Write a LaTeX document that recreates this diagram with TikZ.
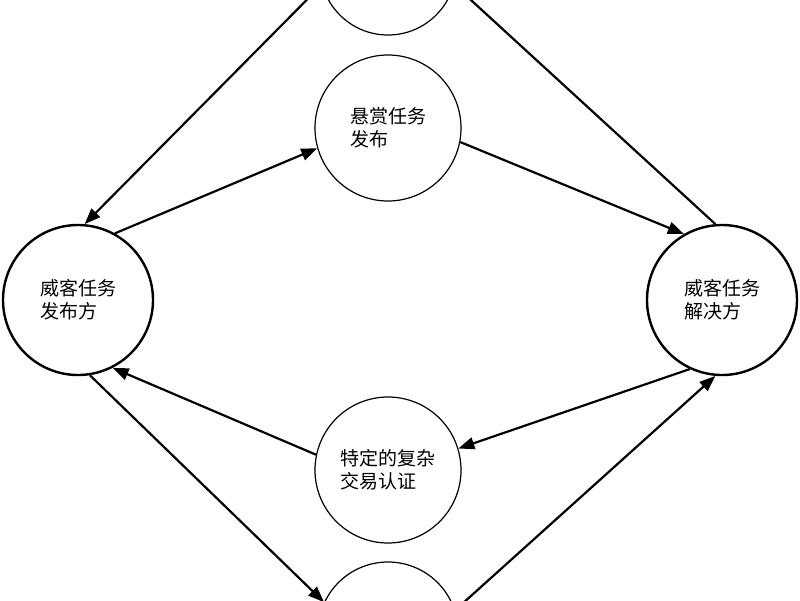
\documentclass[tikz,border=0pt]{standalone}
\usepackage{fontspec}
\newfontfamily\cjk{Noto Sans CJK SC}
\usetikzlibrary{arrows.meta}
\begin{document}
\begin{tikzpicture}[x=1pt,y=-1pt,
  role/.style = {circle, draw, line width=2.4pt, minimum size=150pt,
                 align=left, font=\cjk\fontsize{19}{23}\selectfont},
  stage/.style = {circle, draw, line width=1.2pt, minimum size=146pt,
                 align=left, font=\cjk\fontsize{19}{23}\selectfont},
  flow/.style = {line width=2.2pt, -{Triangle[length=16pt,width=12pt]}}]
		\useasboundingbox (0,0) rectangle (800,600);
		\node[stage, minimum size=136pt] (top) at (388,-33) {};
		\node[stage] (task) at (388,128) {悬赏任务\\发布};
		\node[role] (pub) at (78,300) {威客任务\\发布方};
		\node[role] (sol) at (722,300) {威客任务\\解决方};
		\node[stage] (auth) at (388,470) {特定的复杂\\交易认证};
		\node[stage, minimum size=140pt] (bot) at (388,632) {};
		% upper half
		\draw[flow] (top.195) -- (pub.85);
		\draw[flow] (sol.95) -- (top.345);
		\draw[flow] (pub.61) -- (task.196);
		\draw[flow] (task.349) -- (sol.120);
		% lower half
		\draw[flow] (sol.245) -- (auth.17);
		\draw[flow] (bot.18) -- (sol.265);
		\draw[flow] (auth.168) -- (pub.297);
		\draw[flow] (pub.279) -- (bot.155);
\end{tikzpicture}
\end{document}
